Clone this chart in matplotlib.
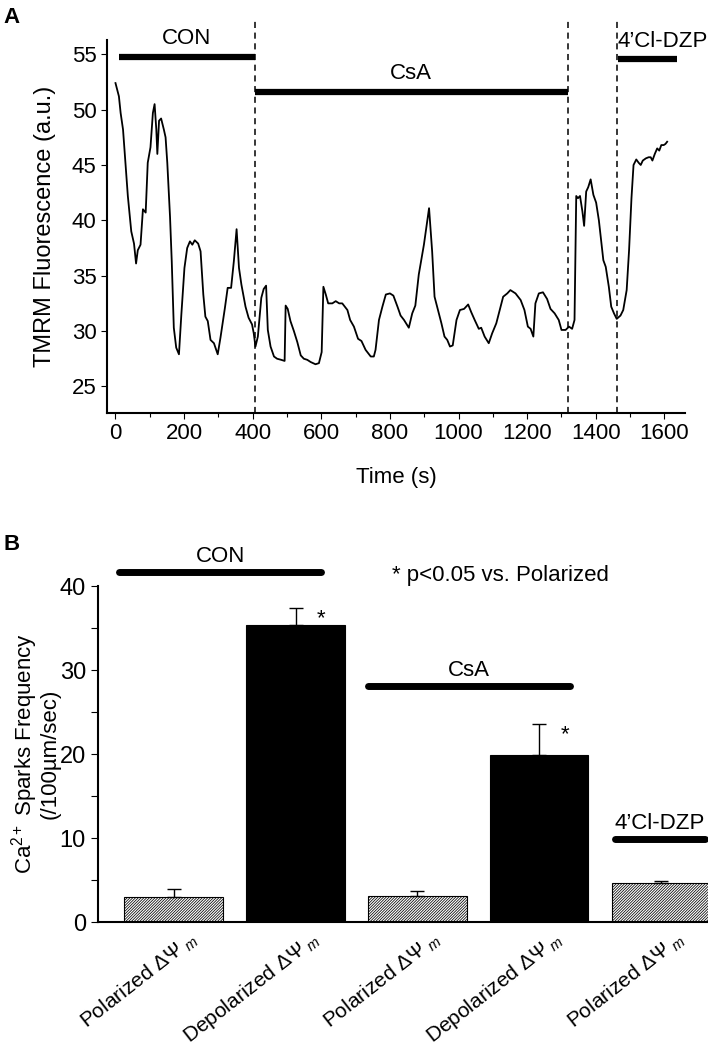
import numpy as np
import matplotlib
matplotlib.use("Agg")
import matplotlib.pyplot as plt
from matplotlib.transforms import ScaledTranslation

plt.rcParams['font.family'] = ['Liberation Sans', 'DejaVu Sans']
plt.rcParams['mathtext.fontset'] = 'custom'
plt.rcParams['mathtext.rm'] = 'Liberation Sans'
plt.rcParams['mathtext.it'] = 'Liberation Sans:italic'
plt.rcParams['hatch.linewidth'] = 0.55

# ---- panel A : TMRM trace ----
time_s = [0, 10, 15, 22, 29, 36, 46, 54, 60, 65, 73, 80, 88, 94, 102, 109, 114, 119, 122, 127,
          133, 141, 146, 151, 159, 164, 170, 177, 185, 192, 201, 209, 217, 224, 231, 241, 248,
          256, 262, 269, 277, 287, 298, 306, 319, 327, 337, 345, 353, 360, 367, 379, 388, 398,
          403, 408, 415, 425, 432, 439, 444, 452, 462, 471, 483, 493, 496, 502, 510, 520, 530,
          540, 549, 559, 569, 583, 593, 601, 606, 613, 620, 632, 642, 652, 661, 676, 684, 695,
          707, 717, 729, 744, 753, 758, 768, 778, 788, 800, 810, 822, 831, 841, 855, 865, 874,
          884, 899, 914, 923, 930, 940, 950, 959, 967, 975, 983, 994, 1004, 1016, 1028, 1037,
          1047, 1059, 1066, 1076, 1088, 1098, 1110, 1120, 1130, 1142, 1151, 1166, 1181, 1192,
          1202, 1210, 1218, 1224, 1234, 1246, 1258, 1268, 1280, 1292, 1300, 1312, 1322, 1331,
          1338, 1343, 1348, 1354, 1361, 1366, 1372, 1378, 1385, 1393, 1401, 1409, 1422, 1429,
          1438, 1445, 1453, 1461, 1472, 1480, 1490, 1497, 1504, 1510, 1518, 1525, 1531, 1537,
          1546, 1554, 1560, 1565, 1572, 1579, 1585, 1591, 1598, 1603, 1608]
tmrm = [52.4, 51.2, 49.7, 48.2, 45.2, 42.2, 39.0, 37.9, 36.1, 37.3, 37.8, 41.0, 40.7, 45.2, 46.6,
        49.7, 50.5, 48.2, 46.0, 49.0, 49.2, 48.2, 47.5, 45.2, 40.3, 36.3, 30.3, 28.5, 27.9, 31.5,
        35.7, 37.5, 38.1, 37.8, 38.2, 37.9, 37.2, 33.3, 31.3, 30.9, 29.2, 28.9, 27.9, 29.4, 32.1,
        33.9, 33.9, 36.3, 39.2, 35.7, 34.2, 32.2, 31.2, 30.6, 29.8, 28.6, 29.5, 33.0, 33.8, 34.1,
        30.1, 28.6, 27.7, 27.5, 27.4, 27.3, 32.3, 32.0, 30.9, 30.0, 29.0, 27.8, 27.5, 27.4, 27.2,
        27.0, 27.1, 28.1, 34.0, 33.3, 32.5, 32.5, 32.7, 32.5, 32.5, 31.9, 31.0, 30.4, 29.3, 29.1,
        28.3, 27.7, 27.7, 28.3, 31.0, 32.2, 33.3, 33.4, 33.2, 32.2, 31.4, 31.0, 30.3, 31.6, 32.3,
        35.1, 37.8, 41.1, 37.2, 33.1, 31.9, 30.7, 29.5, 29.2, 28.6, 28.7, 31.0, 31.9, 32.0, 32.4,
        31.7, 31.0, 30.2, 30.3, 29.5, 28.9, 29.8, 30.7, 31.9, 33.1, 33.4, 33.7, 33.4, 32.8, 31.9,
        30.4, 30.2, 29.5, 32.5, 33.4, 33.5, 32.9, 32.0, 31.6, 31.0, 30.1, 30.1, 30.4, 30.2,
        31.0, 42.2, 42.0, 42.2, 40.8, 39.5, 42.6, 43.0, 43.7, 42.3, 41.6, 40.0, 36.4, 35.8,
        34.0, 32.2, 31.6, 31.1, 31.4, 31.9, 33.7, 37.3, 42.0, 45.0, 45.5, 45.2, 45.0, 45.4,
        45.6, 45.7, 45.7, 45.4, 46.0, 46.5, 46.3, 46.8, 46.8, 46.9, 47.1]

switch_times = [408, 1318, 1462]
periodsA = ["CON", "CsA", "4\u2019Cl-DZP"]
periodsA_start = [9, 408, 1466]
periodsA_end = [408, 1318, 1638]
periodsA_level = [54.8, 51.6, 54.55]

# ---- panel B : spark frequency ----
bar_labels = [r"Polarized $\Delta\Psi_{\ m}$", r"Depolarized $\Delta\Psi_{\ m}$",
              r"Polarized $\Delta\Psi_{\ m}$", r"Depolarized $\Delta\Psi_{\ m}$",
              r"Polarized $\Delta\Psi_{\ m}$"]
spark_freq = [3.0, 35.3, 3.1, 19.9, 4.6]
spark_sem = [0.9, 2.1, 0.55, 3.7, 0.3]
depolarized = [False, True, False, True, False]
signif = [False, True, False, True, False]

groupsB = ["CON", "CsA", "4\u2019Cl-DZP"]
groupsB_start = [-0.45, 1.595, 3.62]
groupsB_end = [1.21, 3.25, 4.36]
groupsB_level = [41.7, 28.1, 9.9]

fig = plt.figure(figsize=(7.08, 10.5), dpi=100)

### Panel A
axA = fig.add_axes([0.151, 0.6067, 0.8165, 0.3553])
axA.plot(time_s, tmrm, color='black', lw=1.3)
axA.set_xlim(-25, 1660)
axA.set_ylim(22.6, 56.3)
for t in switch_times:
    axA.plot([t, t], [22.6, 58.3], color='black', lw=1.1, ls=(0, (4, 3)), clip_on=False)
for name, t0, t1, lev in zip(periodsA, periodsA_start, periodsA_end, periodsA_level):
    axA.plot([t0, t1], [lev, lev], color='black', lw=4.5, solid_capstyle='butt', clip_on=False)
    if name == periodsA[2]:
        axA.text(t0 - 4, lev + 0.7, name, ha='left', va='bottom', fontsize=16)
    else:
        axA.text((t0 + t1) / 2 - 2, lev + 0.7, name, ha='center', va='bottom', fontsize=16)

axA.spines['top'].set_visible(False)
axA.spines['right'].set_visible(False)
axA.spines['left'].set_linewidth(1.5)
axA.spines['bottom'].set_linewidth(1.5)
axA.set_xticks(np.arange(0, 1601, 200))
axA.set_xticks(np.arange(100, 1601, 200), minor=True)
axA.set_yticks(np.arange(25, 56, 5))
axA.tick_params(axis='both', labelsize=16, length=4, width=0.8, direction='out')
axA.tick_params(axis='x', which='minor', length=3, width=0.8)
axA.set_xlabel("Time (s)", fontsize=16, labelpad=16)
axA.set_ylabel("TMRM Fluorescence (a.u.)", fontsize=17)
axA.yaxis.set_label_coords(-0.088, 0.5)

### Panel B
axB = fig.add_axes([0.138, 0.1219, 0.866, 0.3200])
xpos = np.arange(len(spark_freq))
bars = axB.bar(xpos, spark_freq, width=0.81, color='white', edgecolor='black', linewidth=0.8)
for b, dep in zip(bars, depolarized):
    if dep:
        b.set_facecolor('black')
    else:
        b.set_hatch('/' * 12)
axB.errorbar(xpos, spark_freq, yerr=[np.zeros(len(spark_sem)), spark_sem], fmt='none',
             ecolor='black', elinewidth=1.0, capsize=5, capthick=1.0)
for x, v, e, s in zip(xpos, spark_freq, spark_sem, signif):
    if s:
        axB.text(x + 0.21, v + e - 1.3, "*", ha='center', va='center', fontsize=16)

for name, x0, x1, lev in zip(groupsB, groupsB_start, groupsB_end, groupsB_level):
    axB.plot([x0, x1], [lev, lev], color='black', lw=5, solid_capstyle='round', clip_on=False)
    axB.text((x0 + x1) / 2, lev + 0.6, name, ha='center', va='bottom', fontsize=16)
axB.text(1.79, 41.3, "* p<0.05 vs. Polarized", ha='left', va='center', fontsize=16)

axB.set_xlim(-0.625, 4.41)
axB.set_ylim(0, 40)
axB.spines['top'].set_visible(False)
axB.spines['right'].set_visible(False)
axB.spines['left'].set_linewidth(1.5)
axB.spines['bottom'].set_linewidth(1.5)
axB.set_yticks(np.arange(0, 41, 10))
axB.set_yticks(np.arange(5, 40, 10), minor=True)
axB.tick_params(axis='y', labelsize=17, length=5, width=0.8)
axB.tick_params(axis='y', which='minor', length=5, width=0.8)
axB.set_xticks(xpos)
axB.set_xticklabels(bar_labels, rotation=38, ha='right', va='top', rotation_mode='anchor',
                    fontsize=15)
axB.tick_params(axis='x', length=0, pad=4)
# labels end a little right of the bar centre in the reference
shift = ScaledTranslation(14 / 100, 0, fig.dpi_scale_trans)
for lbl in axB.get_xticklabels():
    lbl.set_transform(lbl.get_transform() + shift)
axB.set_ylabel("Ca$^{2+}$ Sparks Frequency\n(/100\u00b5m/sec)", fontsize=16, linespacing=1.0)
axB.yaxis.set_label_coords(-0.06, 0.5)

# panel letters
fig.text(0.005, 0.983, "A", fontsize=16, fontweight='bold', va='center')
fig.text(0.005, 0.481, "B", fontsize=16, fontweight='bold', va='center')

fig.savefig("out.png", dpi=100)
